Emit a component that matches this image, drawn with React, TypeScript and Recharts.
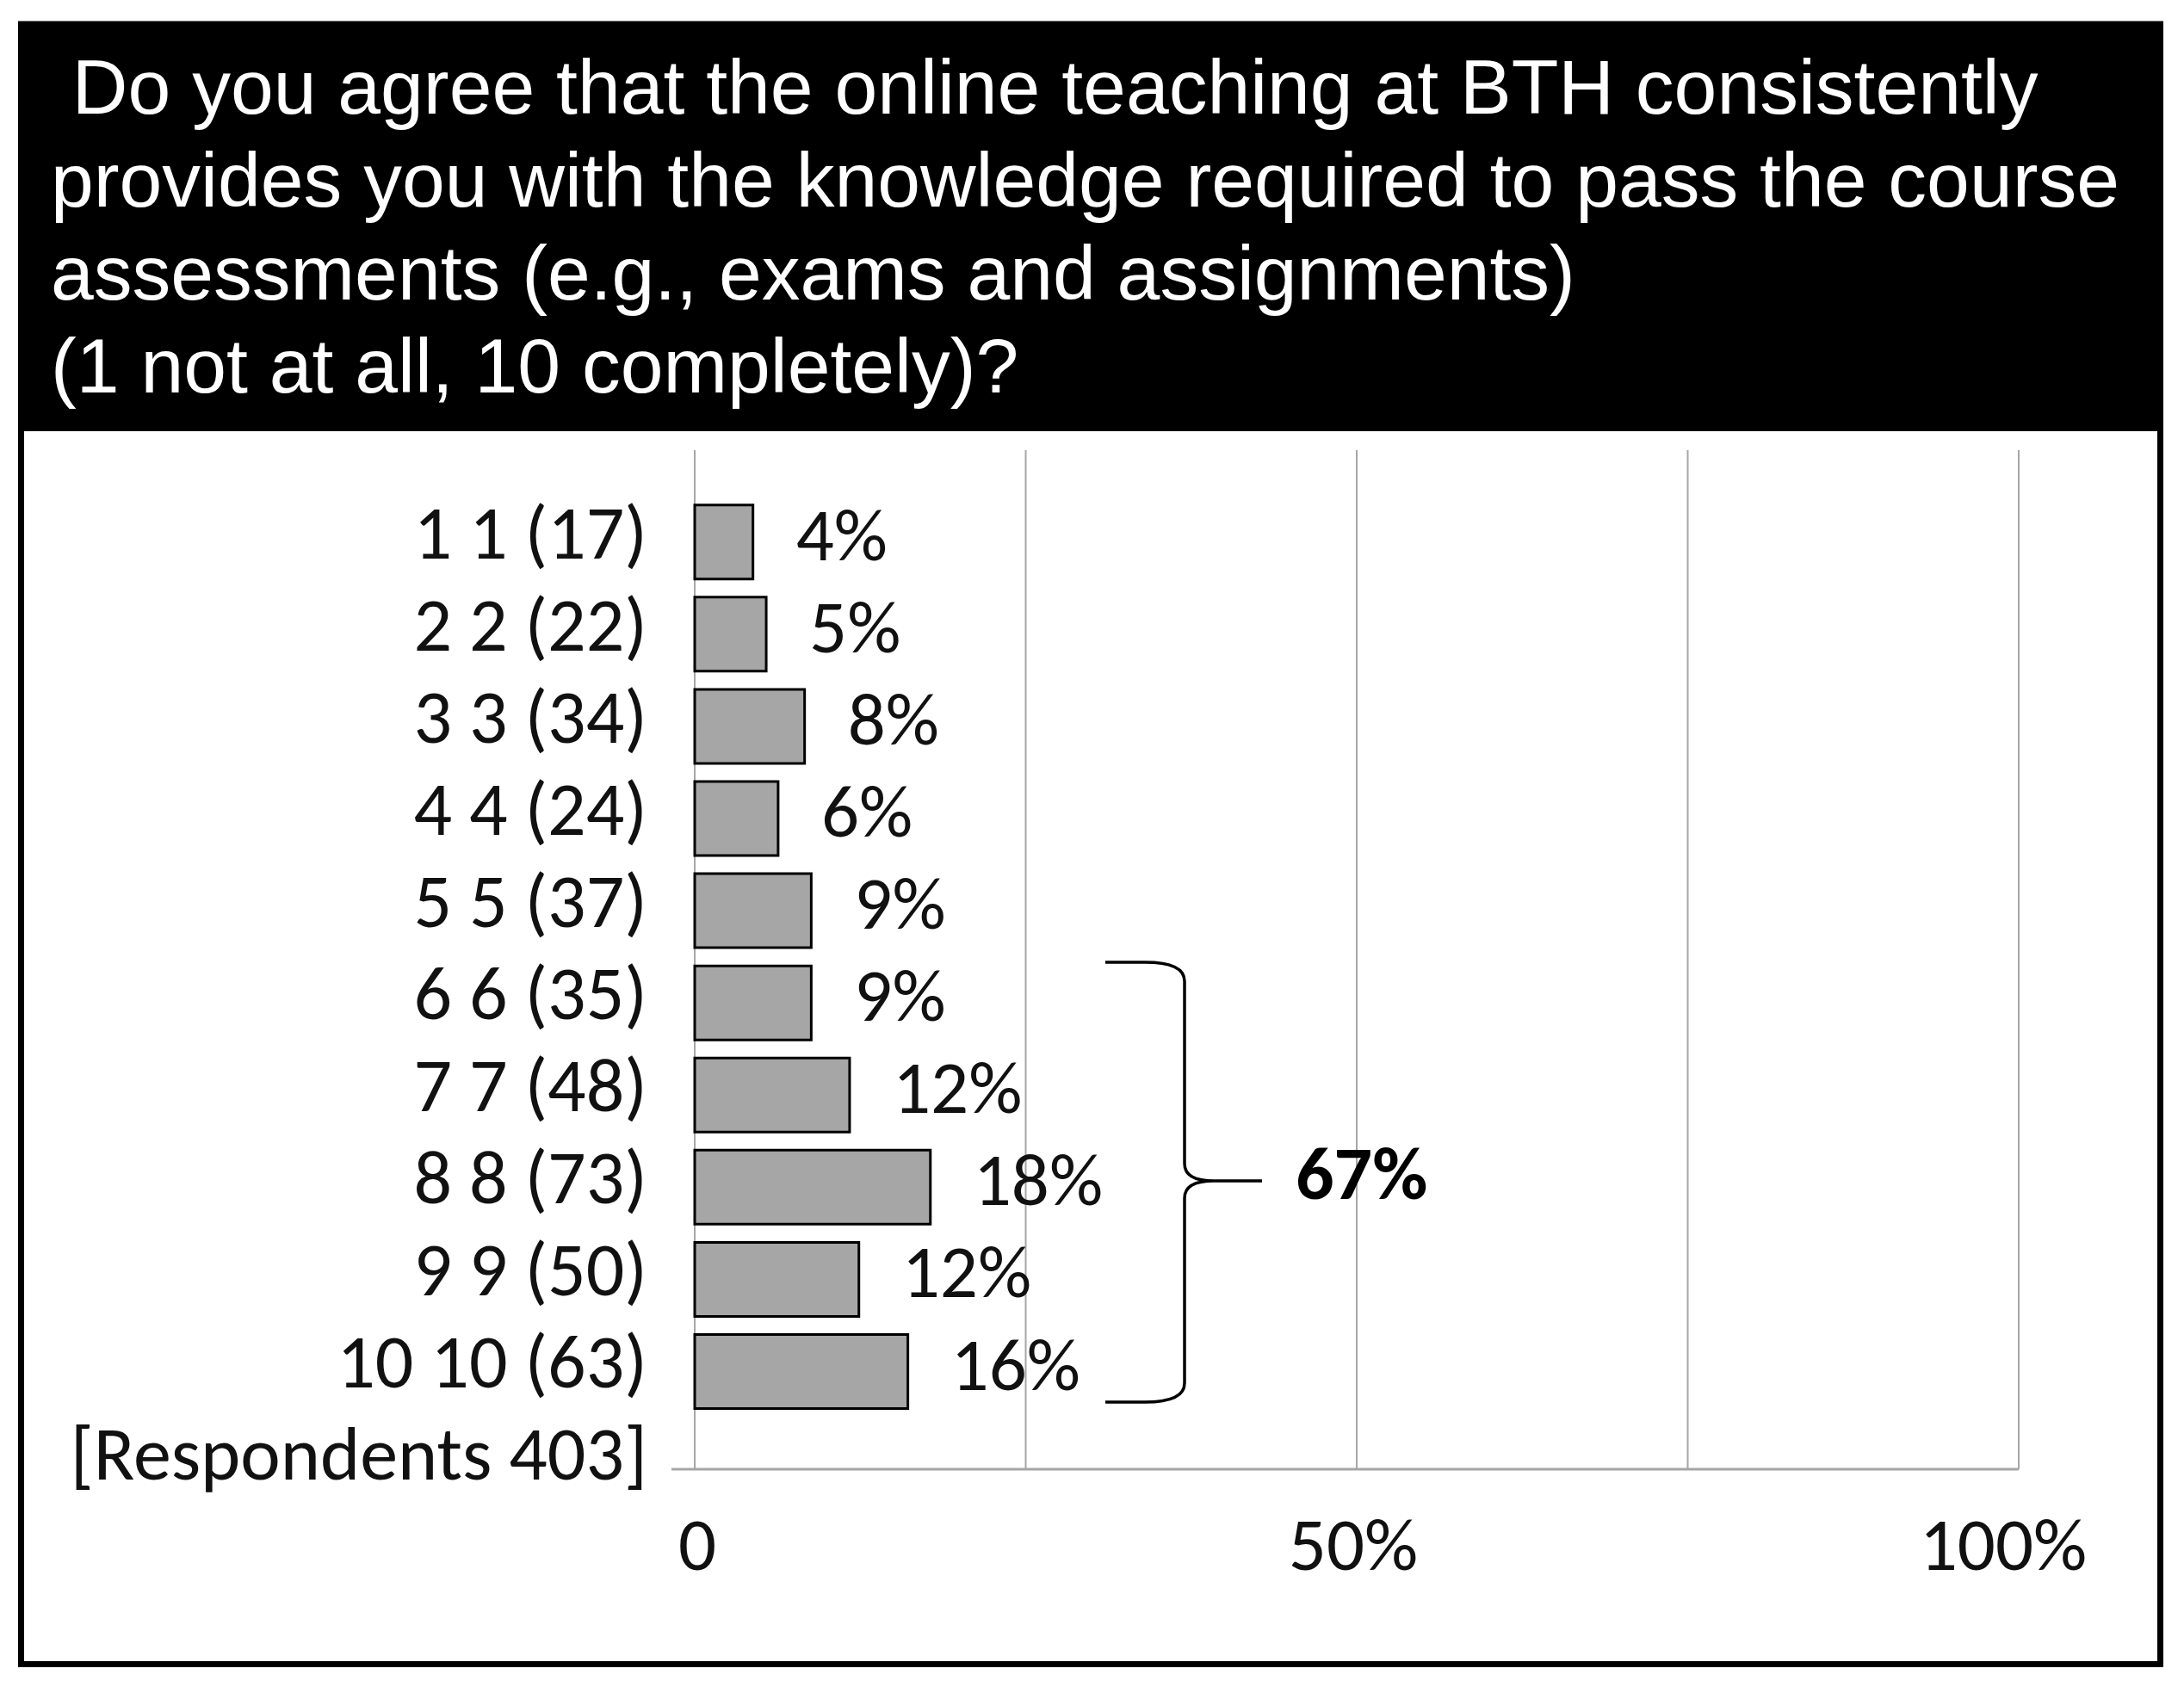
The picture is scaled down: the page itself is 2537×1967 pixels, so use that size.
import React from "react"
import { Bar, BarChart, CartesianGrid, LabelList, XAxis, YAxis } from "recharts"

// survey answers, one row per score (last row only carries the respondent count)
const categories = [
  "1 1 (17)",
  "2 2 (22)",
  "3 3 (34)",
  "4 4 (24)",
  "5 5 (37)",
  "6 6 (35)",
  "7 7 (48)",
  "8 8 (73)",
  "9 9 (50)",
  "10 10 (63)",
  "[Respondents 403]",
]
const shares = [4.4, 5.4, 8.3, 6.3, 8.8, 8.8, 11.7, 17.8, 12.4, 16.1]
const shareLabels = ["4%", "5%", "8%", "6%", "9%", "9%", "12%", "18%", "12%", "16%"]
const valueTicks = [0, 25, 50, 75, 100]
const valueTickLabels = ["0", "", "50%", "", "100%"]

const titleLines = [
  " Do you agree that the online teaching at BTH consistently",
  "provides you with the knowledge required to pass the course",
  "assessments (e.g., exams and assignments)",
  "(1 not at all, 10 completely)?",
]
const groupLabel = "67%"

const data = categories.map((name, i) => ({ name, share: shares[i] ?? null }))

const W = 2537
const H = 1967
const labelFont = "Carlito, Lato, sans-serif"

const CategoryTick = (props: any) => {
  const { x, y, payload } = props
  return (
    <text x={x} y={y + 19} textAnchor="end" fontFamily={labelFont} fontSize={88} fill="#111">
      {payload.value}
    </text>
  )
}

const ValueTick = (props: any) => {
  const { x, y, payload, index } = props
  // the last label sits a little inside the plot edge
  const dx = index === valueTicks.length - 1 ? -18 : index === 0 ? 3 : -4
  return (
    <text x={x + dx} y={y + 117} textAnchor="middle" fontFamily={labelFont} fontSize={87} fill="#111">
      {valueTickLabels[index] ?? payload.value}
    </text>
  )
}

const renderShareLabel = (props: any) => {
  const vb = props.viewBox ?? props
  const idx = props.index
  if (idx == null || shareLabels[idx] == null || vb == null) return null
  return (
    <text
      x={vb.x + vb.width + 50}
      y={vb.y + vb.height / 2 + 21}
      fontFamily={labelFont}
      fontSize={87}
      fill="#111"
    >
      {shareLabels[idx]}
    </text>
  )
}

export default function App() {
  return (
    <div style={{ position: "absolute", left: 0, top: 0, width: W, height: H, background: "#fff" }}>
      <BarChart
        width={W}
        height={H}
        data={data}
        layout="vertical"
        margin={{ top: 523, right: 192, bottom: 140, left: 47 }}
        barCategoryGap="10%"
      >
        <CartesianGrid horizontal={false} stroke="#a6a6a6" strokeWidth={2} />
        <XAxis
          type="number"
          domain={[0, 100]}
          ticks={valueTicks}
          height={120}
          tickSize={0}
          tickMargin={0}
          tickLine={false}
          axisLine={{ stroke: "#a6a6a6", strokeWidth: 3 }}
          tick={<ValueTick />}
        />
        <YAxis
          type="category"
          dataKey="name"
          width={760}
          tickSize={0}
          tickMargin={55}
          tickLine={false}
          axisLine={false}
          padding={{ top: 53, bottom: -47 }}
          tick={<CategoryTick />}
          interval={0}
        />
        <Bar dataKey="share" fill="#a6a6a6" stroke="#000" strokeWidth={3} isAnimationActive={false}>
          <LabelList dataKey="share" content={renderShareLabel} />
        </Bar>
      </BarChart>

      <svg
        width={W}
        height={H}
        style={{ position: "absolute", left: 0, top: 0, pointerEvents: "none" }}
      >
        <rect x={21} y={28} width={2492} height={473} fill="#000" />
        <rect x={24.5} y={28} width={2485} height={1905.5} fill="none" stroke="#000" strokeWidth={7} />
        {titleLines.map((line, i) => (
          <text
            key={i}
            x={59}
            y={132 + i * 108}
            fill="#fff"
            fontFamily="'Liberation Sans', Arial, sans-serif"
            fontSize={89.5}
            style={{ whiteSpace: "pre" }}
          >
            {line}
          </text>
        ))}
        <line x1={780} y1={1707} x2={807} y2={1707} stroke="#a6a6a6" strokeWidth={3} />
        <path
          d="M1284,1118 L1330,1118 Q1376,1118 1376,1140 L1376,1352 Q1376,1372 1410,1372 L1466,1372 M1410,1372 Q1376,1372 1376,1392 L1376,1607 Q1376,1629 1330,1629 L1284,1629"
          fill="none"
          stroke="#000"
          strokeWidth={3.5}
        />
        <text x={1505} y={1393} fontFamily={labelFont} fontWeight="bold" fontSize={88} fill="#000">
          {groupLabel}
        </text>
      </svg>
    </div>
  )
}
